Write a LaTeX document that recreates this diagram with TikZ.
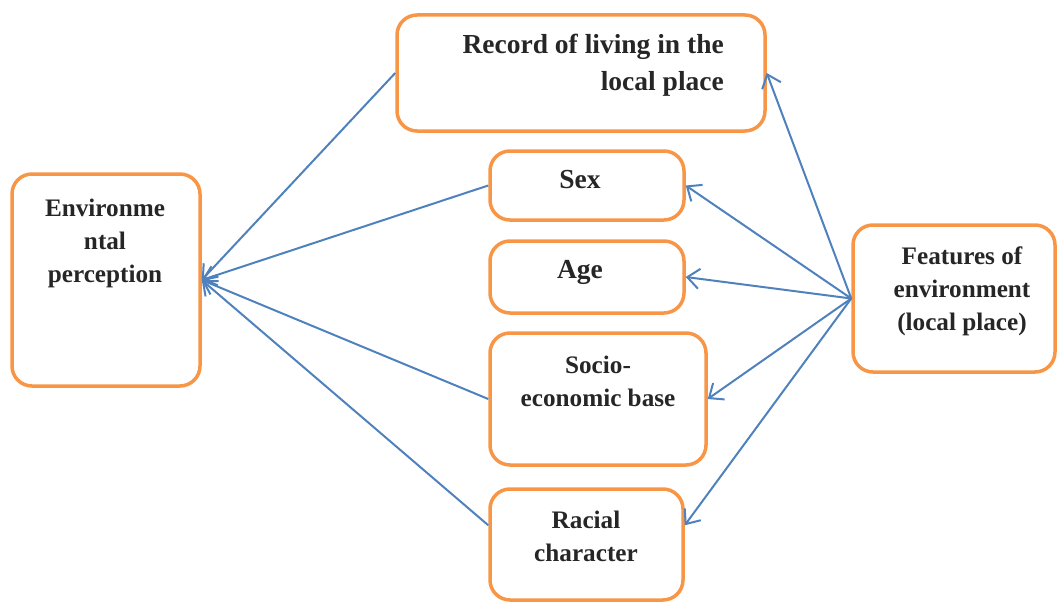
\documentclass[tikz,border=0pt]{standalone}
\usepackage{fontspec}
\setmainfont{Liberation Serif}
\usepackage{tikz}
\usetikzlibrary{arrows.meta}
\usetikzlibrary{calc}
\definecolor{boxorange}{HTML}{F79646}
\definecolor{lineblue}{HTML}{4F81BD}
\tikzstyle{box} = [draw=boxorange, line width=3.5pt, rounded corners=20pt]
\tikzstyle{line} = [draw=lineblue, line width=2pt, -{Straight Barb[length=12pt,width=20pt]}]
\tikzstyle{txt} = [font=\fontsize{25.2}{33}\selectfont\bfseries, text=black!85, align=center, inner sep=0pt]
\tikzstyle{bigtxt} = [font=\fontsize{27.5}{37}\selectfont\bfseries, text=black!85, align=center, inner sep=0pt]

\begin{document}
\begin{tikzpicture}[x=1pt, y=-1pt]
\useasboundingbox (0,0) rectangle (1058,602);

        \node[box, minimum width=188pt, minimum height=212pt] (Env) at (106,280) {};
        \node[box, minimum width=368pt, minimum height=116pt] (Record) at (581,73) {};
        \node[box, minimum width=194pt, minimum height=69pt] (Sex) at (587,185.5) {};
        \node[box, minimum width=194pt, minimum height=72pt] (Age) at (587,277) {};
        \node[box, minimum width=216pt, minimum height=132pt] (Socio) at (598,399) {};
        \node[box, minimum width=193pt, minimum height=111pt] (Racial) at (586.5,544.5) {};
        \node[box, minimum width=202pt, minimum height=147pt] (Feat) at (954,298.5) {};

        \node[txt] (EnvText) at (105,243) {Environme\\ntal\\perception};
        \node[bigtxt, align=right, anchor=east] (RecordText) at (724,65.5) {Record of living in the\\local place};
        \node[bigtxt] (SexText) at (580,180) {Sex};
        \node[bigtxt] (AgeText) at (580,272) {Age};
        \node[txt] (SocioText) at (598,381) {Socio-\\economic base};
        \node[txt] (RacialText) at (586,536) {Racial\\character};
        \node[txt] (FeatText) at (962,291) {Features of\\environment\\(local place)};

        \path [line] (Record.west) -- (Env.east);
        \path [line] (Sex.west) -- (Env.east);
        \path [line] (Socio.west) -- (Env.east);
        \path [line] ($(Racial.north west)+(0,38)$) -- (Env.east);

        \path [line] (Feat.west) -- (Record.east);
        \path [line] (Feat.west) -- (Sex.east);
        \path [line] (Feat.west) -- (Age.east);
        \path [line] (Feat.west) -- (Socio.east);
        \path [line] (Feat.west) -- ($(Racial.north east)+(0,38)$);

\end{tikzpicture}
\end{document}
